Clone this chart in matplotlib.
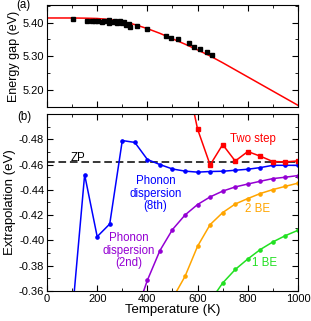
import matplotlib
matplotlib.use('Agg')
import matplotlib.pyplot as plt
from matplotlib.ticker import MultipleLocator

plt.rcParams['font.family'] = ['Liberation Sans', 'DejaVu Sans']

# (a) measured energy gap and fit
exp_T = [102, 158, 178, 191, 204, 218, 227, 247, 247, 262, 271, 278, 291, 297,
         308, 313, 328, 331, 360, 397, 474, 494, 523, 567, 587, 610, 636, 657]
exp_E = [5.411, 5.406, 5.406, 5.405, 5.405, 5.403, 5.406, 5.409, 5.398, 5.403,
         5.406, 5.398, 5.406, 5.400, 5.403, 5.393, 5.395, 5.386, 5.390, 5.381,
         5.361, 5.355, 5.351, 5.338, 5.329, 5.321, 5.312, 5.304]
fit_T = [0, 50, 100, 150, 200, 250, 300, 350, 400, 450, 500, 550, 600, 650,
         700, 750, 800, 850, 900, 950, 1000]
fit_E = [5.4135, 5.4135, 5.4135, 5.413, 5.412, 5.409, 5.403, 5.394, 5.382,
         5.368, 5.352, 5.336, 5.319, 5.301, 5.281, 5.260, 5.239, 5.218, 5.197,
         5.176, 5.155]

# (b) extrapolations
zp = -0.462
T8 = [100, 150, 200, 250, 300, 350, 400, 450, 500, 550, 600, 650, 700, 750,
      800, 850, 900, 950, 1000]
ph8 = [-0.340, -0.452, -0.403, -0.413, -0.479, -0.4775, -0.464, -0.460,
       -0.4565, -0.4548, -0.4540, -0.4545, -0.4547, -0.4555, -0.4563, -0.4576,
       -0.4594, -0.4594, -0.4594]
T2 = [350, 400, 450, 500, 550, 600, 650, 700, 750, 800, 850, 900, 950, 1000]
ph2 = [-0.340, -0.3685, -0.392, -0.4086, -0.4201, -0.4284, -0.4344, -0.4390,
       -0.4423, -0.4446, -0.4468, -0.4489, -0.4500, -0.4513]
Ttwo = [550, 600, 650, 700, 750, 800, 850, 900, 950, 1000]
two = [-0.535, -0.488, -0.4597, -0.4758, -0.4628, -0.4703, -0.4666, -0.4624,
       -0.4621, -0.4629]
T2be = [500, 550, 600, 650, 700, 750, 800, 850, 900, 950, 1000]
be2 = [-0.354, -0.3716, -0.3954, -0.4125, -0.4220, -0.4288, -0.4331, -0.4371,
       -0.4402, -0.4428, -0.4453]
T1be = [650, 700, 750, 800, 850, 900, 950, 1000]
be1 = [-0.352, -0.3663, -0.3770, -0.3853, -0.3928, -0.3988, -0.4038, -0.4080]

fig = plt.figure(figsize=(3.11, 3.21), dpi=100)
axa = fig.add_axes([0.1511, 0.6667, 0.807, 0.3178])
axb = fig.add_axes([0.1511, 0.0935, 0.807, 0.5514])

axa.plot(fit_T, fit_E, '-', color='#ff0000', lw=1.1, zorder=2)
axa.plot(exp_T, exp_E, 's', color='black', ms=2.8, zorder=3)
axa.set_xlim(0, 1000)
axa.set_ylim(5.15, 5.452)
axa.set_yticks([5.20, 5.30, 5.40])
axa.set_yticklabels(['5.20', '5.30', '5.40'])
axa.yaxis.set_minor_locator(MultipleLocator(0.05))
axa.set_ylabel('Energy gap (eV)', fontsize=9, labelpad=2)

axb.axhline(zp, color='black', ls=(0, (5, 2.5)), lw=1.1, zorder=1)
axb.plot(T8, ph8, '-o', color='#0000ff', lw=1.1, ms=2.3)
axb.plot(T2, ph2, '-o', color='#9400d3', lw=1.1, ms=2.3)
axb.plot(Ttwo, two, '-s', color='#ff0000', lw=1.1, ms=2.2)
axb.plot(T2be, be2, '-o', color='#ffa500', lw=1.1, ms=2.3)
axb.plot(T1be, be1, '-o', color='#22e022', lw=1.1, ms=2.3)
axb.set_xlim(0, 1000)
axb.set_ylim(-0.36, -0.50)
axb.set_yticks([-0.48, -0.46, -0.44, -0.42, -0.40, -0.38, -0.36])
axb.set_yticklabels(['-0.48', '-0.46', '-0.44', '-0.42', '-0.40', '-0.38', '-0.36'])
axb.yaxis.set_minor_locator(MultipleLocator(0.01))
axb.set_xlabel('Temperature (K)', fontsize=9.5, labelpad=0)
axb.set_ylabel('Extrapolation (eV)', fontsize=9.5, labelpad=2)

for ax in (axa, axb):
    ax.xaxis.set_major_locator(MultipleLocator(200))
    ax.xaxis.set_minor_locator(MultipleLocator(100))
    ax.tick_params(which='both', direction='in', top=True, right=True,
                   labelsize=8, pad=2)
    ax.tick_params(which='major', length=4)
    ax.tick_params(which='minor', length=2)
axa.set_xticklabels([])

fs = 8.3
axb.text(820, -0.480, 'Two step', color='#ff0000', fontsize=fs, ha='center', va='center')
axb.text(122, -0.4655, 'ZP', color='black', fontsize=fs, ha='center', va='center')
axb.text(432, -0.437, 'Phonon\ndispersion\n(8th)', color='#0000ff', fontsize=fs,
         ha='center', va='center', linespacing=1.05)
axb.text(325, -0.392, 'Phonon\ndispersion\n(2nd)', color='#9400d3', fontsize=fs,
         ha='center', va='center', linespacing=1.05)
axb.text(840, -0.425, '2 BE', color='#ffa500', fontsize=fs, ha='center', va='center')
axb.text(865, -0.382, '1 BE', color='#22e022', fontsize=fs, ha='center', va='center')

fig.text(16 / 311, 1 - 5 / 321, '(a)', fontsize=8.3, ha='left', va='center')
fig.text(17 / 311, 1 - 117 / 321, '(b)', fontsize=8.3, ha='left', va='center')

fig.savefig('out.png', dpi=100)
